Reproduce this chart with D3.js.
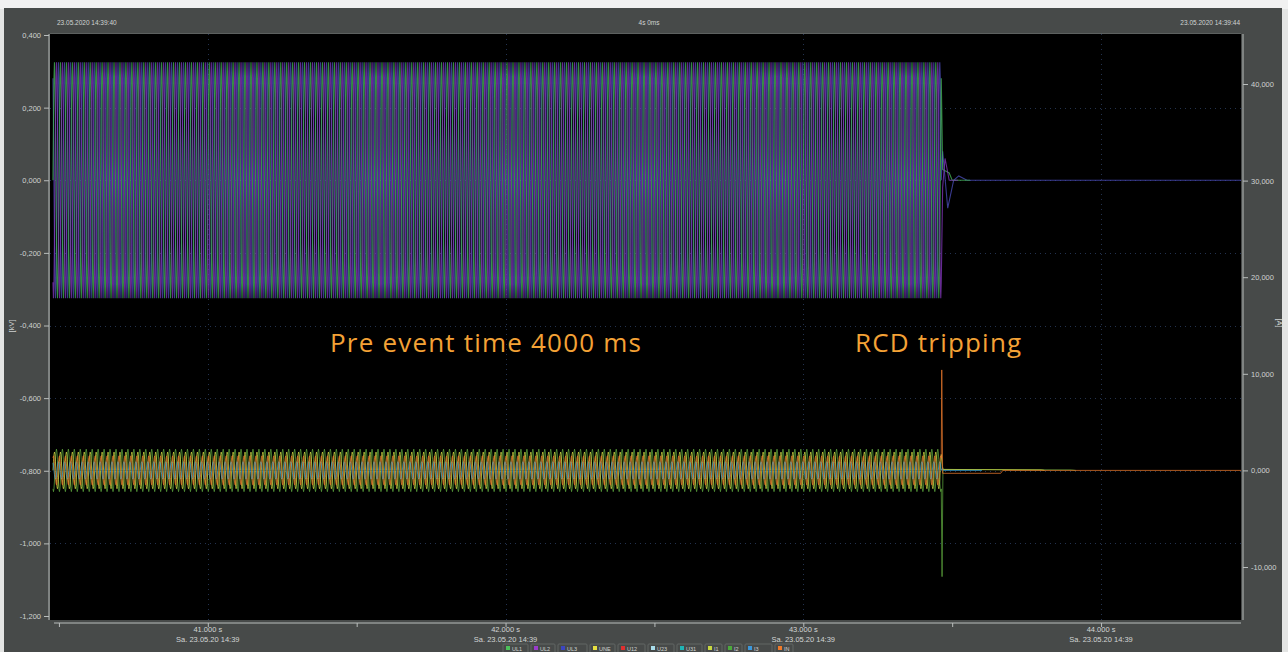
<!DOCTYPE html>
<html lang="en">
<head>
<meta charset="UTF-8">
<title>RCD tripping</title>
<script src="https://cdn.jsdelivr.net/npm/d3@7"></script>
<style>
  html, body { margin: 0; padding: 0; background: #e3e4e3; overflow: hidden; }
  svg { display: block; }
</style>
</head>
<body>
<svg id="chart" width="1288" height="652"></svg>
<script>
// ---------- data ----------
const headerLabels = ["23.05.2020 14:39:40", "4s 0ms", "23.05.2020 14:39:44"]
const timeDomain = [40.47, 44.47]            // s, visible window
const timeTicks = [41, 42, 43, 44]
const timeMinorTicks = [40.5, 41.5, 42.5, 43.5]
const timeTickLabels = ["41.000 s", "42.000 s", "43.000 s", "44.000 s"]
const dateLabels = ["Sa. 23.05.20 14:39", "Sa. 23.05.20 14:39", "Sa. 23.05.20 14:39", "Sa. 23.05.20 14:39"]
const voltTicks = [0.4, 0.2, 0, -0.2, -0.4, -0.6, -0.8, -1.0, -1.2]   // kV, left axis
const ampTicks = [40, 30, 20, 10, 0, -10]                             // A, right axis

const recordStart = 40.48   // s, first sample shown
const tripTime = 43.466     // s, RCD trips
const cyclePeriod = 0.02    // s, one mains cycle

// one recorded mains cycle per channel, 12 samples (kV)
const cycleUL1 = [0, 0.163, 0.281, 0.325, 0.281, 0.163, 0, -0.163, -0.281, -0.325, -0.281, -0.163]
const cycleUL2 = [-0.281, -0.325, -0.281, -0.163, 0, 0.163, 0.281, 0.325, 0.281, 0.163, 0, -0.163]
const cycleUL3 = [0.281, 0.163, 0, -0.163, -0.281, -0.325, -0.281, -0.163, 0, 0.163, 0.281, 0.325]
// one recorded mains cycle per current channel (A)
const cycleI1 = [0, 0.95, 1.65, 1.9, 1.65, 0.95, 0, -0.95, -1.65, -1.9, -1.65, -0.95]
const cycleI2 = [-1.91, -2.2, -1.91, -1.1, 0, 1.1, 1.91, 2.2, 1.91, 1.1, 0, -1.1]
const cycleI3 = [0.78, 0.45, 0, -0.45, -0.78, -0.9, -0.78, -0.45, 0, 0.45, 0.78, 0.9]
const cycleIN = [1.3, 1.5, 1.3, 0.75, 0, -0.75, -1.3, -1.5, -1.3, -0.75, 0, 0.75]

// after the trip: [time s, value]
const tailUL1 = [[43.468, 0.03], [43.49, 0.02], [43.50, 0], [43.56, 0]]
const tailUL2 = [[43.468, -0.02], [43.476, 0.06], [43.49, 0], [43.52, 0]]
const tailUL3 = [[43.468, 0.08], [43.485, -0.077], [43.505, 0], [43.522, 0.012], [43.55, 0], [44.47, 0]]
const tailI1 = [[43.467, 0.4], [43.47, 0.1], [43.80, 0.05], [43.81, 0]]
const tailI2 = [[43.466, -11.0], [43.469, 0.1], [43.90, 0.05], [43.915, 0]]
const tailI3 = [[43.467, 0.2], [43.47, 0], [43.60, 0]]
const tailIN = [[43.465, 10.4], [43.468, -0.3], [43.663, -0.3], [43.67, 0], [44.47, 0]]

const legendNames = ["UL1", "UL2", "UL3", "UNE", "U12", "U23", "U31", "I1", "I2", "I3", "IN"]
const legendColors = ["#4cc15a", "#9a3ccc", "#3c46c0", "#e8e040", "#e03030", "#a8dcea", "#20b4b4", "#c8d840", "#4caa3c", "#3c98dc", "#f07a28"]

const notes = [
  {text: "Pre event time 4000 ms", x: 330, y: 352},
  {text: "RCD tripping", x: 855, y: 352}
]

// ---------- layout ----------
const W = 1288, H = 652
const plot = {left: 50, right: 1241, top: 34, bottom: 620}

const svg = d3.select("#chart")

const x = d3.scaleLinear().domain(timeDomain).range([plot.left, plot.right])
const yV = d3.scaleLinear().domain([-1.2, 0.4]).range([616, 35])
const yA = d3.scaleLinear().domain([-10, 40]).range([567, 84])

const loc = d3.formatLocale({decimal: ",", thousands: ".", grouping: [3], currency: ["", ""], minus: "-"})
const fmt3 = loc.format(".3f")

// background panel
svg.append("rect").attr("x", 0).attr("y", 0).attr("width", W).attr("height", 9).attr("fill", "#f1f1f1")
svg.append("rect").attr("x", 4).attr("y", 8).attr("width", 1278).attr("height", H - 8).attr("fill", "#474a49")
svg.append("rect").attr("x", plot.left).attr("y", plot.top)
  .attr("width", plot.right - plot.left).attr("height", plot.bottom - plot.top).attr("fill", "#000")
svg.append("line").attr("x1", plot.left).attr("x2", plot.right).attr("y1", plot.top - 0.5).attr("y2", plot.top - 0.5)
  .attr("stroke", "#5d6160")

// header
const labelFont = "Liberation Sans, Arial, sans-serif"
const hdr = svg.append("g").attr("font-family", labelFont)
  .attr("font-size", 6.5).attr("fill", "#d0d3d2")
hdr.append("text").attr("x", 57).attr("y", 25).text(headerLabels[0])
hdr.append("text").attr("x", 649).attr("y", 25).attr("text-anchor", "middle").text(headerLabels[1])
hdr.append("text").attr("x", 1240).attr("y", 25).attr("text-anchor", "end").text(headerLabels[2])

// grid
const grid = svg.append("g").attr("stroke", "#23324f").attr("stroke-dasharray", "1,4").attr("stroke-width", 1)
grid.selectAll(".gv").data(timeTicks).join("line")
  .attr("x1", d => Math.round(x(d)) + 0.5).attr("x2", d => Math.round(x(d)) + 0.5)
  .attr("y1", plot.top).attr("y2", plot.bottom)
grid.selectAll(".gh").data(voltTicks.filter(d => d < 0.39 && d > -1.19)).join("line")
  .attr("x1", plot.left).attr("x2", plot.right)
  .attr("y1", d => Math.round(yV(d)) + 0.5).attr("y2", d => Math.round(yV(d)) + 0.5)

// series
function buildSeries(cycle, tail) {
  const step = cyclePeriod / cycle.length
  const n = Math.floor((tripTime - recordStart) / step)
  const pts = []
  for (let i = 0; i < n; i++) pts.push([recordStart + i * step, cycle[i % cycle.length]])
  return pts.concat(tail)
}

const voltSeries = [
  {name: "UL3", color: "#4a4cb8", data: buildSeries(cycleUL3, tailUL3)},
  {name: "UL1", color: "#44b456", data: buildSeries(cycleUL1, tailUL1)},
  {name: "UL2", color: "#8236ba", data: buildSeries(cycleUL2, tailUL2)}
]
const ampSeries = [
  {name: "I2", color: "#5ea63e", data: buildSeries(cycleI2, tailI2)},
  {name: "I1", color: "#cfd444", data: buildSeries(cycleI1, tailI1)},
  {name: "I3", color: "#3aa8dc", data: buildSeries(cycleI3, tailI3)},
  {name: "IN", color: "#e8782c", data: buildSeries(cycleIN, tailIN)}
]

const lineV = d3.line().x(d => x(d[0])).y(d => yV(d[1]))
const lineA = d3.line().x(d => x(d[0])).y(d => yA(d[1]))

svg.append("clipPath").attr("id", "clipPlot").append("rect")
  .attr("x", plot.left).attr("y", plot.top).attr("width", plot.right - plot.left).attr("height", plot.bottom - plot.top)

const marks = svg.append("g").attr("clip-path", "url(#clipPlot)")
marks.selectAll(".v").data(voltSeries).join("path")
  .attr("fill", "none").attr("stroke", d => d.color).attr("stroke-width", 1.1).attr("stroke-opacity", 0.78)
  .attr("d", d => lineV(d.data))
marks.selectAll(".a").data(ampSeries).join("path")
  .attr("fill", "none").attr("stroke", d => d.color).attr("stroke-width", 1).attr("stroke-opacity", 0.75)
  .attr("d", d => lineA(d.data))

// axes
const axisColor = "#b9bdbc"

const gL = svg.append("g").attr("transform", `translate(${plot.left - 1},0)`)
  .call(d3.axisLeft(yV).tickValues(voltTicks).tickFormat(fmt3).tickSize(5).tickPadding(3))
gL.select(".domain").attr("d", `M0,${plot.top}V${plot.bottom}`)

const gR = svg.append("g").attr("transform", `translate(${plot.right + 2},0)`)
  .call(d3.axisRight(yA).tickValues(ampTicks).tickFormat(fmt3).tickSize(5).tickPadding(3))
gR.select(".domain").attr("d", `M0,${plot.top}V${plot.bottom}`)

const gB = svg.append("g").attr("transform", `translate(0,${plot.bottom + 3})`)
  .call(d3.axisBottom(x).tickValues(timeTicks.concat(timeMinorTicks)).tickFormat("").tickSize(4))
gB.select(".domain").attr("d", `M${plot.left + 4},0H${plot.right}`)

;[gL, gR, gB].forEach(g => {
  g.selectAll(".domain").attr("stroke", axisColor)
  g.selectAll(".tick line").attr("stroke", axisColor)
  g.selectAll("text").attr("fill", "#cfd2d1").attr("font-size", 7.5).attr("font-family", labelFont)
})

const tl = svg.append("g").attr("font-family", labelFont).attr("font-size", 7.5).attr("fill", "#d2d5d4")
  .attr("text-anchor", "middle")
tl.selectAll(".t1").data(timeTicks).join("text").attr("class", "t1")
  .attr("x", d => x(d)).attr("y", plot.bottom + 12).text((d, i) => timeTickLabels[i])
tl.selectAll(".t2").data(timeTicks).join("text").attr("class", "t2")
  .attr("x", d => x(d)).attr("y", plot.bottom + 22).text((d, i) => dateLabels[i])

// unit labels
svg.append("text").attr("transform", "translate(14,326) rotate(-90)").attr("text-anchor", "middle")
  .attr("font-family", labelFont).attr("font-size", 7.5).attr("fill", "#cfd2d1").text("[kV]")
svg.append("text").attr("transform", "translate(1277,323) rotate(90)").attr("text-anchor", "middle")
  .attr("font-family", labelFont).attr("font-size", 7.5).attr("fill", "#cfd2d1").text("[A]")

// legend along the bottom edge
const legendX = [503, 531, 558, 590, 618, 648, 677, 705, 725, 745, 775]
const lg = svg.append("g").attr("font-family", labelFont).attr("font-size", 5.5)
const item = lg.selectAll("g").data(legendNames).join("g")
  .attr("transform", (d, i) => `translate(${legendX[i]},644)`)
item.append("rect").attr("width", (d, i) => (i + 1 < legendX.length ? legendX[i + 1] - legendX[i] - 3 : 18)).attr("height", 12)
  .attr("fill", "none").attr("stroke", "#626665").attr("rx", 1)
item.append("rect").attr("x", 3).attr("y", 2).attr("width", 4).attr("height", 4)
  .attr("fill", (d, i) => legendColors[i])
item.append("text").attr("x", 9).attr("y", 6.5).attr("fill", "#cfd2d1").text(d => d)

// annotations
svg.append("g").selectAll("text").data(notes).join("text")
  .attr("x", d => d.x).attr("y", d => d.y)
  .attr("font-family", "Open Sans, Lato, sans-serif").attr("font-size", 26)
  .attr("letter-spacing", 1.2)
  .attr("fill", "#f4a236").text(d => d.text)
</script>
</body>
</html>
